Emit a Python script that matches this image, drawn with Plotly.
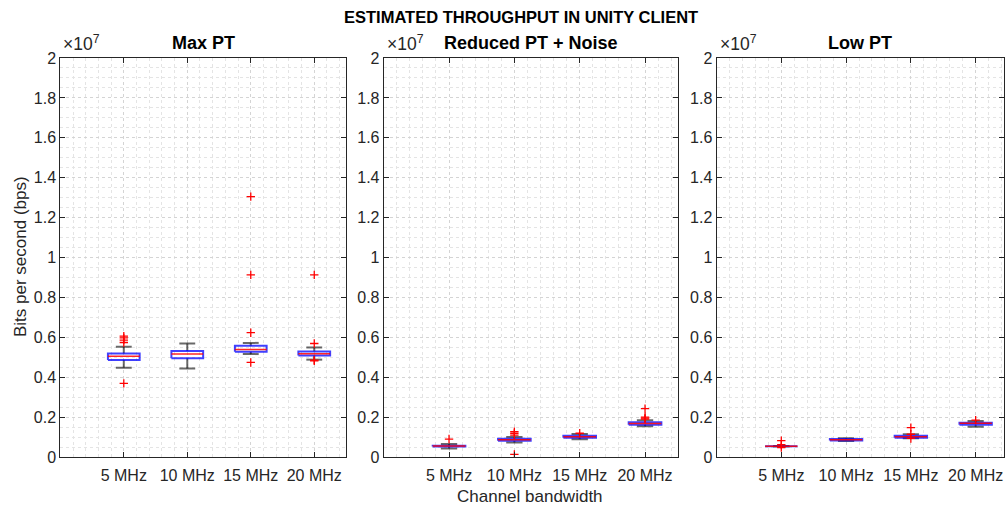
import plotly.graph_objects as go

# Channel bandwidth categories (x positions 1..4)
categories = ["5 MHz", "10 MHz", "15 MHz", "20 MHz"]
positions = [1, 2, 3, 4]

panel_titles = ["Max PT", "Reduced PT + Noise", "Low PT"]

# Box statistics per panel (bits per second)
maxpt_lower = [4.47e6, 4.44e6, 5.16e6, 4.88e6]
maxpt_q1 = [4.86e6, 4.95e6, 5.28e6, 5.09e6]
maxpt_median = [5.05e6, 5.16e6, 5.39e6, 5.17e6]
maxpt_q3 = [5.19e6, 5.31e6, 5.58e6, 5.29e6]
maxpt_upper = [5.53e6, 5.69e6, 5.72e6, 5.49e6]
maxpt_outliers = [
    [6.06e6, 5.97e6, 5.86e6, 5.74e6, 3.69e6],
    [],
    [13.05e6, 9.13e6, 6.23e6, 4.74e6],
    [9.13e6, 5.69e6, 4.86e6, 4.82e6],
]

reduced_lower = [0.42e6, 0.73e6, 0.885e6, 1.54e6]
reduced_q1 = [0.53e6, 0.82e6, 0.97e6, 1.62e6]
reduced_median = [0.55e6, 0.867e6, 1.018e6, 1.68e6]
reduced_q3 = [0.57e6, 0.92e6, 1.07e6, 1.74e6]
reduced_upper = [0.65e6, 1.0e6, 1.15e6, 1.84e6]
reduced_outliers = [
    [0.90e6],
    [1.27e6, 1.19e6, 1.10e6, 0.13e6],
    [1.19e6],
    [2.42e6, 2.0e6, 1.95e6, 1.90e6],
]

low_lower = [0.535e6, 0.80e6, 0.94e6, 1.52e6]
low_q1 = [0.535e6, 0.83e6, 0.97e6, 1.62e6]
low_median = [0.535e6, 0.867e6, 1.018e6, 1.687e6]
low_q3 = [0.535e6, 0.90e6, 1.07e6, 1.72e6]
low_upper = [0.535e6, 0.94e6, 1.135e6, 1.80e6]
low_outliers = [
    [0.82e6, 0.62e6, 0.47e6],
    [],
    [1.47e6, 1.14e6, 0.93e6],
    [1.85e6],
]

y_ticks = [0, 2e6, 4e6, 6e6, 8e6, 10e6, 12e6, 14e6, 16e6, 18e6, 20e6]
y_tick_text = ["0", "0.2", "0.4", "0.6", "0.8", "1", "1.2", "1.4", "1.6", "1.8", "2"]

panels = [
    (maxpt_lower, maxpt_q1, maxpt_median, maxpt_q3, maxpt_upper, maxpt_outliers),
    (reduced_lower, reduced_q1, reduced_median, reduced_q3, reduced_upper, reduced_outliers),
    (low_lower, low_q1, low_median, low_q3, low_upper, low_outliers),
]

W, H = 1005, 508


def py(px):
    """Convert a pixel row (from the top) to paper y."""
    return 1 - px / H


# axes extents in pixels: (left, right), and x-range max
x_px = [(60.3, 346.0, 4.5), (383.7, 677.7, 4.5), (716.5, 1003.5, 4.43)]
y_bottom_px, y_top_px = 457.0, 58.0

BOX_HALF = 0.25
CAP_HALF = 0.125
FONT = "Liberation Sans, Arial, sans-serif"
AX_COLOR = "#262626"

fig = go.Figure()

for i, (lo, q1, med, q3, up, outl) in enumerate(panels):
    xa = "x" if i == 0 else f"x{i + 1}"
    ya = "y" if i == 0 else f"y{i + 1}"

    # whiskers with caps
    wx, wy = [], []
    for p, a, b, c, d in zip(positions, lo, q1, q3, up):
        wx += [p, p, None, p, p, None,
               p - CAP_HALF, p + CAP_HALF, None, p - CAP_HALF, p + CAP_HALF, None]
        wy += [c, d, None, a, b, None, d, d, None, a, a, None]
    fig.add_trace(go.Scatter(x=wx, y=wy, mode="lines", xaxis=xa, yaxis=ya,
                             line=dict(color="rgba(25,25,25,0.65)", width=2),
                             hoverinfo="skip", showlegend=False))

    # boxes
    bx, by = [], []
    for p, b, c in zip(positions, q1, q3):
        bx += [p - BOX_HALF, p + BOX_HALF, p + BOX_HALF, p - BOX_HALF, p - BOX_HALF, None]
        by += [b, b, c, c, b, None]
    fig.add_trace(go.Scatter(x=bx, y=by, mode="lines", xaxis=xa, yaxis=ya,
                             line=dict(color="rgba(0,0,255,0.75)", width=2),
                             hoverinfo="skip", showlegend=False))

    # medians
    mx, my = [], []
    for p, m in zip(positions, med):
        mx += [p - BOX_HALF, p + BOX_HALF, None]
        my += [m, m, None]
    fig.add_trace(go.Scatter(x=mx, y=my, mode="lines", xaxis=xa, yaxis=ya,
                             line=dict(color="rgba(255,0,0,0.85)", width=1.5),
                             hoverinfo="skip", showlegend=False))

    # outliers
    ox, oy = [], []
    for p, pts in zip(positions, outl):
        ox += [p] * len(pts)
        oy += pts
    fig.add_trace(go.Scatter(x=ox, y=oy, mode="markers", xaxis=xa, yaxis=ya,
                             marker=dict(symbol="cross-thin", size=6, color="red",
                                         line=dict(color="red", width=1.3)),
                             hoverinfo="skip", showlegend=False))

    left, right, xmax = x_px[i]
    xkey = "xaxis" if i == 0 else f"xaxis{i + 1}"
    ykey = "yaxis" if i == 0 else f"yaxis{i + 1}"
    fig.layout[xkey] = dict(
        domain=[left / W, right / W], range=[0, xmax], anchor=ya, automargin=False,
        tickmode="array", tickvals=positions, ticktext=categories,
        ticks="inside", ticklen=5, tickcolor=AX_COLOR, mirror="ticks",
        ticklabelstandoff=4,
        showline=True, linecolor=AX_COLOR, linewidth=1,
        showgrid=True, gridcolor="#d4d4d4", griddash="dot", gridwidth=1,
        minor=dict(tickmode="linear", tick0=0, dtick=0.2, showgrid=True,
                   gridcolor="#e4e4e4", griddash="dot", gridwidth=1, ticks=""),
        zeroline=False, tickfont=dict(family=FONT, size=16, color=AX_COLOR),
    )
    fig.layout[ykey] = dict(
        domain=[py(y_bottom_px), py(y_top_px)], range=[0, 2e7], anchor=xa,
        automargin=False,
        tickmode="array", tickvals=y_ticks, ticktext=y_tick_text,
        ticks="inside", ticklen=5, tickcolor=AX_COLOR, mirror="ticks",
        showline=True, linecolor=AX_COLOR, linewidth=1,
        showgrid=True, gridcolor="#d4d4d4", griddash="dot", gridwidth=1,
        minor=dict(tickmode="linear", tick0=0, dtick=5e5, showgrid=True,
                   gridcolor="#e4e4e4", griddash="dot", gridwidth=1, ticks=""),
        zeroline=False, tickfont=dict(family=FONT, size=16, color=AX_COLOR),
    )

    # panel title
    fig.add_annotation(text=f"<b>{panel_titles[i]}</b>", xref="paper", yref="paper",
                       x=(left + right) / 2 / W, y=py(43), xanchor="center",
                       yanchor="middle", showarrow=False,
                       font=dict(family=FONT, size=18, color="black"))
    # exponent label
    fig.add_annotation(text="×10<sup>7</sup>", xref="paper", yref="paper",
                       x=(left + 1) / W, y=py(56), xanchor="left", yanchor="bottom",
                       showarrow=False, font=dict(family=FONT, size=17.5, color=AX_COLOR))

fig.add_annotation(text="<b>ESTIMATED THROUGHPUT IN UNITY CLIENT</b>", xref="paper",
                   yref="paper", x=521 / W, y=py(17), xanchor="center",
                   yanchor="middle", showarrow=False,
                   font=dict(family=FONT, size=16.5, color="black"))
fig.add_annotation(text="Bits per second (bps)", xref="paper", yref="paper",
                   x=20 / W, y=py(257), textangle=-90, xanchor="center",
                   yanchor="middle", showarrow=False,
                   font=dict(family=FONT, size=17, color=AX_COLOR))
fig.add_annotation(text="Channel bandwidth", xref="paper", yref="paper",
                   x=530 / W, y=py(496), xanchor="center", yanchor="middle",
                   showarrow=False, font=dict(family=FONT, size=17, color=AX_COLOR))

fig.update_layout(template="none", width=W, height=H,
                  margin=dict(l=0, r=0, t=0, b=0, pad=0),
                  paper_bgcolor="white", plot_bgcolor="white")

fig.write_html("out.html")
